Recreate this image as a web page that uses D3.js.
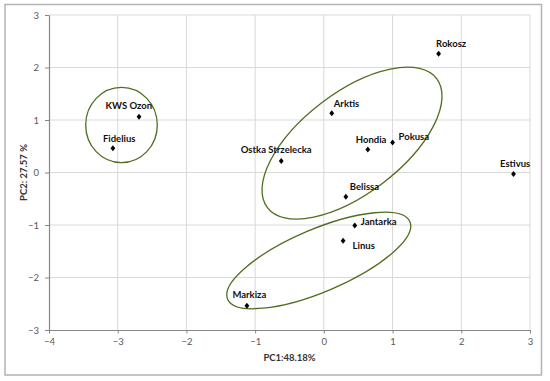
<!DOCTYPE html>
<html>
<head>
<meta charset="utf-8">
<script src="https://cdn.jsdelivr.net/npm/d3@7"></script>
<style>
  body { margin: 0; background: #fff; }
  svg { display: block; }
  text { font-family: Lato, "Liberation Sans", sans-serif; }
</style>
</head>
<body>
<svg id="chart"></svg>
<script>
// cultivars and their PCA scores
const names = ['Rokosz', 'Arktis', 'Hondia', 'Pokusa', 'Ostka Strzelecka', 'Belissa',
  'Jantarka', 'Linus', 'Markiza', 'KWS Ozon', 'Fidelius', 'Estivus']
const pc1 = [1.67, 0.115, 0.64, 1.0, -0.62, 0.32, 0.45, 0.28, -1.12, -2.69, -3.07, 2.76]
const pc2 = [2.26, 1.13, 0.44, 0.57, 0.22, -0.46, -1.01, -1.30, -2.54, 1.06, 0.46, -0.03]
const xTicks = [-4, -3, -2, -1, 0, 1, 2, 3]
const yTicks = [-3, -2, -1, 0, 1, 2, 3]

// label offsets from marker (px), text anchored at start
const labelOffset = {
  'Rokosz': [-2.5, -7], 'Arktis': [2, -6.5], 'Hondia': [-12, -6], 'Pokusa': [6, -3],
  'Ostka Strzelecka': [-40.5, -7.5], 'Belissa': [4, -6.5], 'Jantarka': [6, -0.5],
  'Linus': [9.5, 8.5], 'Markiza': [-14.5, -7.5], 'KWS Ozon': [-33.5, -8],
  'Fidelius': [-10, -6], 'Estivus': [-13.5, -7]
}

// group ellipses: centre in data units, semi axes in px, rotation in degrees
const groups = [
  { cx: -2.945, cy: 0.905, a: 35.8, b: 37.7, rot: 0 },
  { cx: 0.41, cy: 0.56, a: 106.4, b: 50.5, rot: -37.3 },
  { cx: -0.074, cy: -1.676, a: 99, b: 31.3, rot: -23 }
]

const width = 550
const height = 381
const plot = { left: 49, right: 530, top: 15, bottom: 330 }

const svg = d3.select('#chart')
  .attr('width', width)
  .attr('height', height)

svg.append('rect')
  .attr('x', 5).attr('y', 4.5)
  .attr('width', 536.5).attr('height', 370.5)
  .attr('fill', '#fff')
  .attr('stroke', '#b3b3b3')
  .attr('stroke-width', 1.5)

const x = d3.scaleLinear().domain([-4, 3]).range([plot.left, plot.right])
const y = d3.scaleLinear().domain([-3, 3]).range([plot.bottom, plot.top])

// gridlines
svg.append('g')
  .selectAll('line')
  .data(xTicks.slice(1))
  .enter()
  .append('line')
  .attr('x1', d => x(d)).attr('x2', d => x(d))
  .attr('y1', plot.top).attr('y2', plot.bottom)
  .attr('stroke', '#d9d9d9')

svg.append('g')
  .selectAll('line')
  .data(yTicks.slice(1))
  .enter()
  .append('line')
  .attr('x1', plot.left).attr('x2', plot.right)
  .attr('y1', d => y(d)).attr('y2', d => y(d))
  .attr('stroke', '#d9d9d9')

// axes
const fmt = d3.format('d')
const xAxis = svg.append('g')
  .attr('transform', `translate(0, ${plot.bottom})`)
  .call(d3.axisBottom(x).tickValues(xTicks).tickFormat(fmt).tickSize(3.5).tickPadding(5).tickSizeOuter(0))
const yAxis = svg.append('g')
  .attr('transform', `translate(${plot.left}, 0)`)
  .call(d3.axisLeft(y).tickValues(yTicks).tickFormat(fmt).tickSize(4).tickPadding(6).tickSizeOuter(0))

for (const ax of [xAxis, yAxis]) {
  ax.select('.domain').attr('stroke', '#868686').attr('stroke-width', 1.2)
  ax.selectAll('.tick line').attr('stroke', '#868686')
  ax.selectAll('.tick text')
    .attr('fill', '#595959')
    .style('font-size', '9.5px')
    .style('font-family', 'Lato, "Liberation Sans", sans-serif')
}

// axis titles
svg.append('text')
  .attr('x', (plot.left + plot.right) / 2)
  .attr('y', 360.5)
  .attr('text-anchor', 'middle')
  .style('font-size', '9.5px')
  .style('font-weight', 'bold')
  .attr('fill', '#333')
  .text('PC1:48.18%')

svg.append('text')
  .attr('transform', `translate(26.5, ${(plot.top + plot.bottom) / 2}) rotate(-90)`)
  .attr('text-anchor', 'middle')
  .style('font-size', '9.5px')
  .style('font-weight', 'bold')
  .attr('fill', '#333')
  .text('PC2: 27.57 %')

// ellipses around groups
svg.append('g')
  .selectAll('ellipse')
  .data(groups)
  .enter()
  .append('ellipse')
  .attr('transform', d => `translate(${x(d.cx)}, ${y(d.cy)}) rotate(${d.rot})`)
  .attr('rx', d => d.a)
  .attr('ry', d => d.b)
  .attr('fill', 'none')
  .attr('stroke', '#4f6d1f')
  .attr('stroke-width', 1.3)

// diamond markers
const diamond = {
  draw(ctx) {
    ctx.moveTo(0, -3)
    ctx.lineTo(2.4, 0)
    ctx.lineTo(0, 3)
    ctx.lineTo(-2.4, 0)
    ctx.closePath()
  }
}
const pts = names.map((n, i) => ({ name: n, x: pc1[i], y: pc2[i] }))

svg.append('g')
  .selectAll('path')
  .data(pts)
  .enter()
  .append('path')
  .attr('d', d3.symbol(diamond))
  .attr('transform', d => `translate(${x(d.x)}, ${y(d.y)})`)
  .attr('fill', '#000')

svg.append('g')
  .selectAll('text')
  .data(pts)
  .enter()
  .append('text')
  .attr('x', d => x(d.x) + labelOffset[d.name][0])
  .attr('y', d => y(d.y) + labelOffset[d.name][1])
  .style('font-size', '9.5px')
  .style('font-weight', 'bold')
  .attr('fill', '#111')
  .text(d => d.name)
</script>
</body>
</html>
